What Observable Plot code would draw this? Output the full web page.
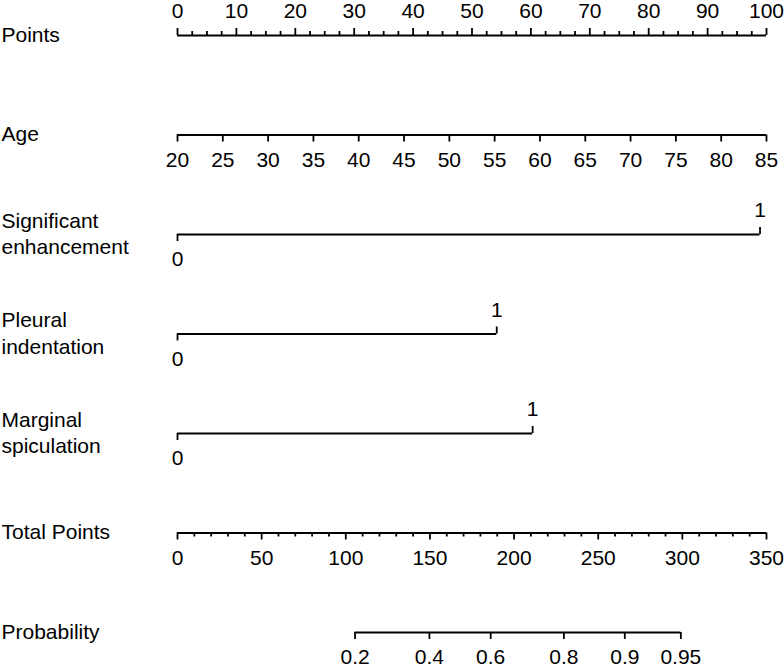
<!DOCTYPE html>
<html>
<head>
<meta charset="utf-8">
<script src="https://cdn.jsdelivr.net/npm/d3@7"></script>
<script src="https://cdn.jsdelivr.net/npm/@observablehq/plot@0.6"></script>
<style>
  html, body { margin: 0; padding: 0; background: #fff; }
</style>
</head>
<body>
<div id="chart"></div>
<script>
// ---- Data ----
const rowNames = ["Points", "Age", "Significant\nenhancement", "Pleural\nindentation", "Marginal\nspiculation", "Total Points", "Probability"];
const pointsTicks = [0, 10, 20, 30, 40, 50, 60, 70, 80, 90, 100];
const ageTicks = [20, 25, 30, 35, 40, 45, 50, 55, 60, 65, 70, 75, 80, 85];
const binaryVars = ["Significant\nenhancement", "Pleural\nindentation", "Marginal\nspiculation"];
const binaryPointsAt1 = [98.9, 54.2, 60.3];   // points for level "1" (level "0" = 0 points)
const totalPointsTicks = [0, 50, 100, 150, 200, 250, 300, 350];
const probTicks = [0.2, 0.4, 0.6, 0.8, 0.9, 0.95];
const probTotalPoints = [105.5, 149.7, 186.1, 229.6, 265.8, 299.1]; // total points where each probability lies

// ---- Conversions to the common points scale ----
const ageToPts = a => (a - 20) * 100 / 65;
const totToPts = t => t * 100 / 350;
const rowOf = name => rowNames.indexOf(name);

const pointsMinor = d3.range(0, 100.01, 2.5).filter(v => v % 10 !== 0);
const totalMinor = d3.range(0, 350.01, 10).filter(v => v % 50 !== 0);

// lines
const lines = [
  {row: 0, x1: 0, x2: 100},
  {row: 1, x1: ageToPts(ageTicks[0]), x2: ageToPts(ageTicks[ageTicks.length - 1])},
  ...binaryVars.map((v, i) => ({row: rowOf(v), x1: 0, x2: binaryPointsAt1[i]})),
  {row: 5, x1: totToPts(totalPointsTicks[0]), x2: totToPts(totalPointsTicks[totalPointsTicks.length - 1])},
  {row: 6, x1: totToPts(probTotalPoints[0]), x2: totToPts(probTotalPoints[probTotalPoints.length - 1])}
];

const upMajor = [
  ...pointsTicks.map(v => ({row: 0, x: v, label: String(v)})),
  ...binaryVars.map((v, i) => ({row: rowOf(v), x: binaryPointsAt1[i], label: "1"}))
];
const upMinor = pointsMinor.map(v => ({row: 0, x: v}));
const downMajor = [
  ...ageTicks.map(a => ({row: 1, x: ageToPts(a), label: String(a)})),
  ...binaryVars.map(v => ({row: rowOf(v), x: 0, label: "0"})),
  ...totalPointsTicks.map(t => ({row: 5, x: totToPts(t), label: String(t)})),
  ...probTicks.map((p, i) => ({row: 6, x: totToPts(probTotalPoints[i]), label: String(p)}))
];
const downMinor = totalMinor.map(t => ({row: 5, x: totToPts(t)}));

const rowLabels = rowNames.map((n, i) => ({row: i, text: n}));

const FONT = 21;
const SW = 1.8;
const INK = "#000";

const chart = Plot.plot({
  width: 784,
  height: 672,
  marginLeft: 177,
  marginRight: 18,
  marginTop: 35,
  marginBottom: 40,
  x: {domain: [0, 100], axis: null},
  y: {domain: [0, 6], reverse: true, axis: null},
  style: {fontFamily: "'Liberation Sans', Arial, sans-serif", background: "#fff"},
  marks: [
    Plot.ruleY(lines, {y: "row", x1: "x1", x2: "x2", stroke: INK, strokeWidth: SW}),
    Plot.ruleX(upMajor, {x: "x", y1: "row", y2: "row", insetTop: -7, insetBottom: 0, stroke: INK, strokeWidth: SW}),
    Plot.ruleX(upMinor, {x: "x", y1: "row", y2: "row", insetTop: -4, insetBottom: 0, stroke: INK, strokeWidth: SW}),
    Plot.ruleX(downMajor, {x: "x", y1: "row", y2: "row", insetTop: 0, insetBottom: -7, stroke: INK, strokeWidth: SW}),
    Plot.ruleX(downMinor, {x: "x", y1: "row", y2: "row", insetTop: 0, insetBottom: -4, stroke: INK, strokeWidth: SW}),
    Plot.text(upMajor, {x: "x", y: "row", text: "label", dy: -24, fontSize: FONT, fill: INK}),
    Plot.text(downMajor, {x: "x", y: "row", text: "label", dy: 25, fontSize: FONT, fill: INK}),
    Plot.text(rowLabels, {y: "row", text: "text", frameAnchor: "left", dx: -176, textAnchor: "start", lineHeight: 1.25, dy: -2, fontSize: FONT, fill: INK})
  ]
});
document.getElementById("chart").appendChild(chart);
</script>
</body>
</html>
